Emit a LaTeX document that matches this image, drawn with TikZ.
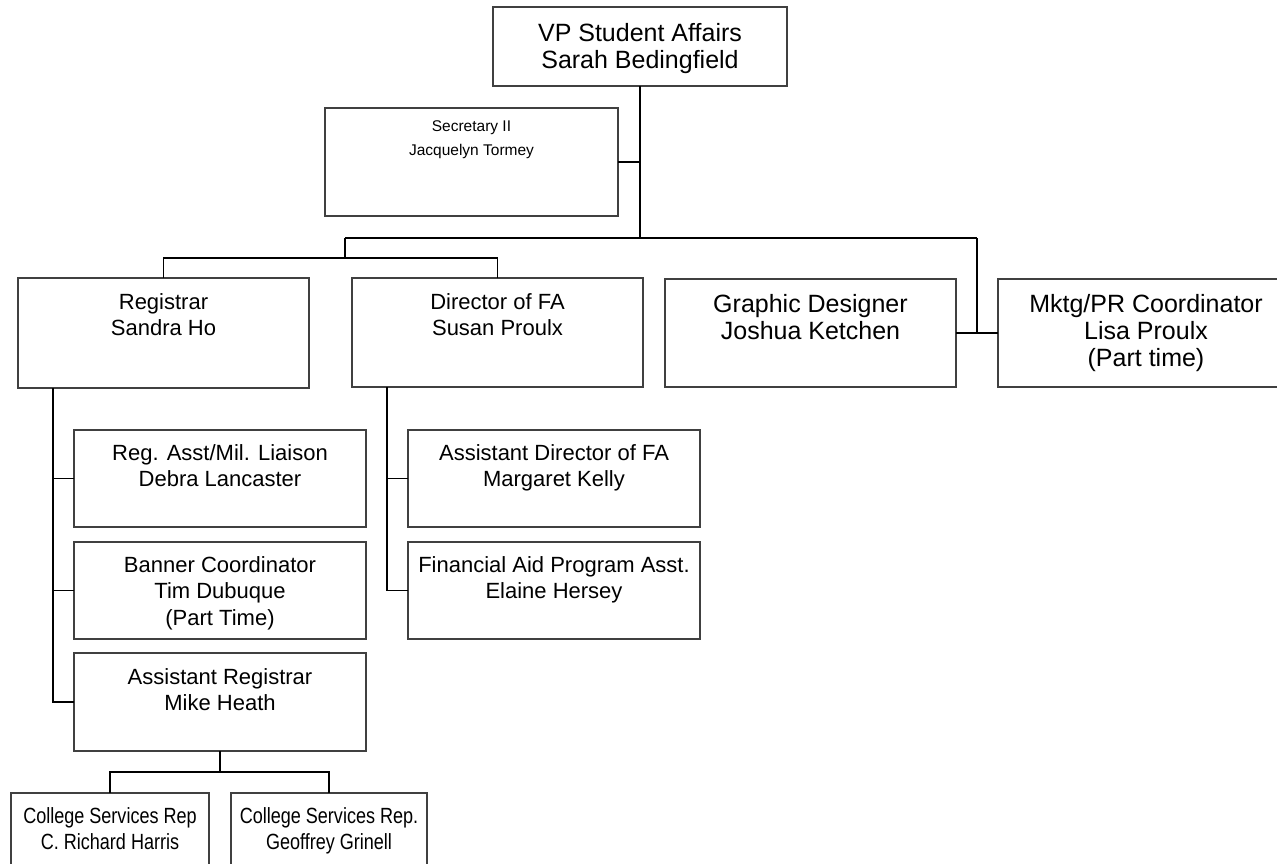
\documentclass[tikz,border=0pt]{standalone}
\usepackage{fontspec}
\setmainfont{Liberation Sans}
\newfontfamily\narrowsans[FakeStretch=0.82]{Liberation Sans}
\usetikzlibrary{calc}
% type sizes used in the chart
\newcommand\fbig{\fontsize{25}{27}\selectfont}
\newcommand\fmed{\fontsize{22}{26.7}\selectfont}
\newcommand\fsmall{\fontsize{15.5}{24}\selectfont}
\newcommand\fnarrow{\narrowsans\fontsize{22}{26.7}\selectfont}
\begin{document}
\begin{tikzpicture}[x=1pt,y=-1pt,
  box/.style 2 args={draw=black!75, line width=1.3pt, inner sep=0pt, outer sep=0pt,
    anchor=north west, minimum width=#1, minimum height=#2},
  txt/.style={anchor=north, align=center, inner sep=0pt},
  link/.style={draw=black, line width=1.5pt}]
\useasboundingbox (0,0) rectangle (1277,864);
\clip (0,0) rectangle (1277,864);

% ---- boxes ----
\node[box={294pt}{79pt}]  (vp)   at (493,7)   {};
\node[box={293pt}{108pt}] (sec)  at (325,108) {};
\node[box={291pt}{110pt}] (reg)  at (18,278)  {};
\node[box={291pt}{109pt}] (dir)  at (352,278) {};
\node[box={291pt}{108pt}] (gd)   at (665,279) {};
\node[box={296pt}{108pt}] (mk)   at (998,279) {};
\node[box={292pt}{97pt}]  (rega) at (74,430)  {};
\node[box={292pt}{97pt}]  (ban)  at (74,542)  {};
\node[box={292pt}{98pt}]  (areg) at (74,653)  {};
\node[box={292pt}{97pt}]  (adfa) at (408,430) {};
\node[box={292pt}{97pt}]  (fapa) at (408,542) {};
\node[box={198pt}{100pt}] (csr1) at (11,793)  {};
\node[box={196pt}{100pt}] (csr2) at (231,793) {};

% ---- texts ----
\node[txt, font=\fbig]   (vpT)   at ($(vp.north)+(0,16)$)   {VP Student Affairs\\Sarah Bedingfield};
\node[txt, font=\fsmall] (secT)  at ($(sec.north)+(0,12)$)  {Secretary II\\Jacquelyn Tormey};
\node[txt, font=\fmed]   (regT)  at ($(reg.north)+(0,15)$)  {Registrar\\Sandra Ho};
\node[txt, font=\fmed]   (dirT)  at ($(dir.north)+(0,15)$)  {Director of FA\\Susan Proulx};
\node[txt, font=\fbig]   (gdT)   at ($(gd.north)+(0,15)$)   {Graphic Designer\\Joshua Ketchen};
\node[txt, font=\fbig]   (mkT)   at ($(mk.north)+(0,15)$)   {Mktg/PR Coordinator\\Lisa Proulx\\(Part time)};
\node[txt, font=\fmed]   (regaT) at ($(rega.north)+(0,14)$) {Reg. Asst/Mil. Liaison\\Debra Lancaster};
\node[txt, font=\fmed]   (banT)  at ($(ban.north)+(0,14)$)  {Banner Coordinator\\Tim Dubuque\\(Part Time)};
\node[txt, font=\fmed]   (aregT) at ($(areg.north)+(0,15)$) {Assistant Registrar\\Mike Heath};
\node[txt, font=\fmed]   (adfaT) at ($(adfa.north)+(0,14)$) {Assistant Director of FA\\Margaret Kelly};
\node[txt, font=\fmed]   (fapaT) at ($(fapa.north)+(0,14)$) {Financial Aid Program Asst.\\Elaine Hersey};
\node[txt, font=\fnarrow] (csr1T) at ($(csr1.north)+(0,14)$) {College Services Rep\\C. Richard Harris};
\node[txt, font=\fnarrow] (csr2T) at ($(csr2.north)+(0,14)$) {College Services Rep.\\Geoffrey Grinell};

% ---- connectors ----
\coordinate (busY)   at (0,238);
\coordinate (hub)    at (vp.south |- busY);
\coordinate (lsplit) at (345,238);
\coordinate (rsplit) at (977,238);
\coordinate (lbar)   at (345,258);
\draw[link] (vp.south) -- (hub);
\draw[link] (sec.east) -- (sec.east -| hub);
\draw[link] (lsplit) -- (rsplit);
\draw[link] (rsplit) |- (gd.east);
\draw[link] (mk.west) -- (mk.west -| rsplit);
\draw[link] (lsplit) -- (lbar);
\draw[link] (reg.north) |- (lbar) -| (dir.north);

% registrar staff
\coordinate (rtrunk) at ($(reg.south west)+(35,0)$);
\draw[link] (rtrunk) |- (areg.west);
\draw[link] (rega.west) -- (rega.west -| rtrunk);
\draw[link] (ban.west) -- (ban.west -| rtrunk);

% financial aid staff
\coordinate (dtrunk) at ($(dir.south west)+(35,0)$);
\draw[link] (dtrunk) |- (fapa.west);
\draw[link] (adfa.west) -- (adfa.west -| dtrunk);

% college services reps
\coordinate (abar) at ($(areg.south)+(0,21)$);
\draw[link] (areg.south) -- (abar);
\draw[link] (csr1.north) |- (abar) -| (csr2.north);
\end{tikzpicture}
\end{document}
